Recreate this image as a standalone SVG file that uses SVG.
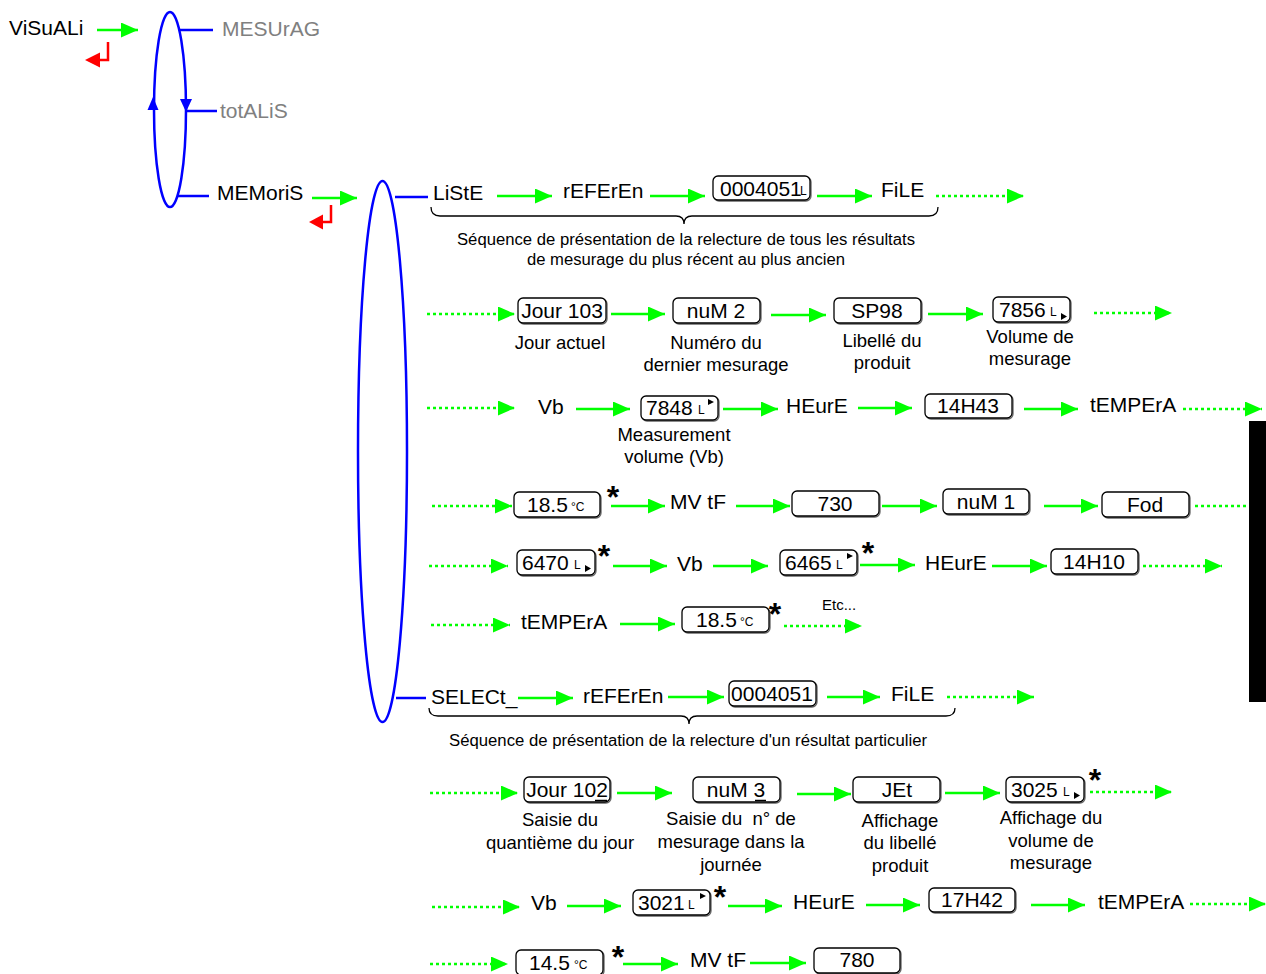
<svg xmlns="http://www.w3.org/2000/svg" width="1266" height="974" viewBox="0 0 1266 974">
<style>
text{font-family:"Liberation Sans",Arial,sans-serif;fill:#000}
.t{font-size:21px}
.gr{font-size:21px;fill:#808080}
.l{font-size:18.5px;text-anchor:middle}
.d{font-size:16px;text-anchor:middle}
.c{text-anchor:middle}
.u{font-size:12px}
.s{font-size:32px;font-weight:bold;text-anchor:middle}
.box{fill:#fff;stroke:#000;stroke-width:1.3}
.sh{fill:none;stroke:#666;stroke-width:1.3}
.ga{stroke:#00ff00;stroke-width:2.5;fill:none;marker-end:url(#gh)}
.gd{stroke:#00ff00;stroke-width:2.5;fill:none;stroke-dasharray:3 3;marker-end:url(#gh)}
.gdn{stroke:#00ff00;stroke-width:2.5;fill:none;stroke-dasharray:3 3}
.bl{stroke:#0000ff;stroke-width:2.5;fill:none}
.br{stroke:#000;stroke-width:1.3;fill:none}
.red{stroke:#ff0000;stroke-width:2.5;fill:none}
</style>
<defs>
<marker id="gh" markerUnits="userSpaceOnUse" markerWidth="17" markerHeight="15" refX="17" refY="7.5" orient="auto">
<path d="M0,0 L17,7.5 L0,15 Z" fill="#00ff00"/>
</marker>
</defs>
<rect width="1266" height="974" fill="#fff"/>

<g id="menu">
<ellipse class="bl" cx="170" cy="109.5" rx="16" ry="97.5"/>
<path d="M153,97 L147.5,110 L158.5,110 Z" fill="#0000ff"/>
<path d="M186,112 L180,99 L192,99 Z" fill="#0000ff"/>
<line class="bl" x1="180" y1="30" x2="213" y2="30"/>
<line class="bl" x1="186" y1="111" x2="217" y2="111"/>
<line class="bl" x1="178" y1="196" x2="209" y2="196"/>
</g>
<g id="visuali"><text class="t" x="9" y="35">ViSuALi</text></g>
<g id="mesurag"><text class="gr" x="222" y="36">MESUrAG</text></g>
<g id="totalis"><text class="gr" x="220" y="118">totALiS</text></g>
<g id="memoris"><text class="t" x="217" y="200">MEMoriS</text></g>
<g id="returns">
<path class="red" d="M108,42 L108,60 L98,60"/>
<path d="M85,60 L100,52.5 L100,67.5 Z" fill="#ff0000"/>
<path class="red" d="M331,205 L331,222 L321,222"/>
<path d="M309,222 L323,214.5 L323,229.5 Z" fill="#ff0000"/>
</g>

<g id="memellipse">
<ellipse class="bl" cx="382.5" cy="451.5" rx="24.5" ry="270.5"/>
<line class="bl" x1="395" y1="197" x2="428" y2="197"/>
<line class="bl" x1="396" y1="698" x2="426" y2="698"/>
</g>

<g id="connectors">
<line class="ga" x1="97" y1="30" x2="138" y2="30"/>
<line class="ga" x1="312" y1="198" x2="357" y2="198"/>
<line class="ga" x1="497" y1="196" x2="552" y2="196"/>
<line class="ga" x1="650" y1="196" x2="705" y2="196"/>
<line class="ga" x1="817" y1="196" x2="872" y2="196"/>
<line class="gd" x1="936" y1="196" x2="1024" y2="196"/>
<line class="gd" x1="427" y1="314" x2="515" y2="314"/>
<line class="ga" x1="611" y1="314" x2="665" y2="314"/>
<line class="ga" x1="771" y1="315" x2="826" y2="315"/>
<line class="ga" x1="928" y1="314" x2="983" y2="314"/>
<line class="gd" x1="1094" y1="313" x2="1172" y2="313"/>
<line class="gd" x1="427" y1="408" x2="515" y2="408"/>
<line class="ga" x1="576" y1="409" x2="630" y2="409"/>
<line class="ga" x1="723" y1="409" x2="778" y2="409"/>
<line class="ga" x1="858" y1="408" x2="912" y2="408"/>
<line class="ga" x1="1024" y1="409" x2="1078" y2="409"/>
<line class="gd" x1="1183" y1="409" x2="1262" y2="409"/>
<line class="gd" x1="432" y1="506" x2="512" y2="506"/>
<line class="ga" x1="611" y1="506" x2="665" y2="506"/>
<line class="ga" x1="736" y1="506" x2="790" y2="506"/>
<line class="ga" x1="882" y1="506" x2="937" y2="506"/>
<line class="ga" x1="1044" y1="506" x2="1098" y2="506"/>
<line class="gdn" x1="1195" y1="506" x2="1249" y2="506"/>
<line class="gd" x1="429" y1="566" x2="508" y2="566"/>
<line class="ga" x1="613" y1="566" x2="667" y2="566"/>
<line class="ga" x1="713" y1="566" x2="768" y2="566"/>
<line class="ga" x1="860" y1="565" x2="915" y2="565"/>
<line class="ga" x1="992" y1="566" x2="1047" y2="566"/>
<line class="gd" x1="1143" y1="566" x2="1222" y2="566"/>
<line class="gd" x1="431" y1="625" x2="510" y2="625"/>
<line class="ga" x1="620" y1="624" x2="675" y2="624"/>
<line class="gd" x1="784" y1="626" x2="862" y2="626"/>
<line class="ga" x1="518" y1="698" x2="573" y2="698"/>
<line class="ga" x1="668" y1="697" x2="724" y2="697"/>
<line class="ga" x1="827" y1="697" x2="880" y2="697"/>
<line class="gd" x1="947" y1="697" x2="1034" y2="697"/>
<line class="gd" x1="430" y1="793" x2="518" y2="793"/>
<line class="ga" x1="617" y1="793" x2="672" y2="793"/>
<line class="ga" x1="797" y1="794" x2="851" y2="794"/>
<line class="ga" x1="945" y1="793" x2="1000" y2="793"/>
<line class="gd" x1="1090" y1="792" x2="1172" y2="792"/>
<line class="gd" x1="432" y1="907" x2="520" y2="907"/>
<line class="ga" x1="567" y1="906" x2="621" y2="906"/>
<line class="ga" x1="728" y1="906" x2="782" y2="906"/>
<line class="ga" x1="866" y1="905" x2="920" y2="905"/>
<line class="ga" x1="1031" y1="905" x2="1085" y2="905"/>
<line class="gd" x1="1190" y1="904" x2="1266" y2="904"/>
<line class="gd" x1="430" y1="964" x2="508" y2="964"/>
<line class="ga" x1="623" y1="964" x2="678" y2="964"/>
<line class="ga" x1="750" y1="963" x2="806" y2="963"/>
</g>

<g id="liste"><text class="t" x="433" y="200">LiStE</text></g>
<g id="referen1"><text class="t" x="563" y="198">rEFErEn</text></g>
<g id="ref1box"><rect class="sh" x="714" y="177" width="97" height="24" rx="5"/><rect class="box" x="713" y="176" width="97" height="24" rx="5"/><text class="t" x="720" y="196">0004051</text><text class="u" x="800" y="195">L</text></g>
<g id="file1"><text class="t" x="881" y="197">FiLE</text></g>
<g id="brace1">
<path class="br" d="M431,207 Q431,216 440,216 L676,216 Q684,216 684,224 Q684,216 692,216 L929,216 Q938,216 938,207"/>
<text class="d" x="686" y="245" textLength="458" lengthAdjust="spacingAndGlyphs">Séquence de présentation de la relecture de tous les résultats</text>
<text class="d" x="686" y="265" textLength="318" lengthAdjust="spacingAndGlyphs">de mesurage du plus récent au plus ancien</text>
</g>

<g id="jour103"><rect class="sh" x="519" y="299" width="88" height="25" rx="5"/><rect class="box" x="518" y="298" width="88" height="25" rx="5"/><text class="t c" x="562" y="318">Jour 103</text><text class="l" x="560" y="349">Jour actuel</text></g>
<g id="num2"><rect class="sh" x="674" y="299" width="87" height="25" rx="5"/><rect class="box" x="673" y="298" width="87" height="25" rx="5"/><text class="t c" x="716" y="318">nuM 2</text><text class="l" x="716" y="349">Numéro du</text><text class="l" x="716" y="371">dernier mesurage</text></g>
<g id="sp98"><rect class="sh" x="835" y="299" width="87" height="25" rx="5"/><rect class="box" x="834" y="298" width="87" height="25" rx="5"/><text class="t c" x="877" y="318">SP98</text><text class="l" x="882" y="347">Libellé du</text><text class="l" x="882" y="369">produit</text></g>
<g id="v7856"><rect class="sh" x="994" y="298" width="77" height="25" rx="5"/><rect class="box" x="993" y="297" width="77" height="25" rx="5"/><text class="t" x="999" y="317">7856</text><text class="u" x="1050" y="316">L</text><path d="M1061,313 L1067,316.5 L1061,320 Z"/><text class="l" x="1030" y="343">Volume de</text><text class="l" x="1030" y="365">mesurage</text></g>

<g id="vb1"><text class="t" x="538" y="414">Vb</text></g>
<g id="v7848"><rect class="sh" x="642" y="397" width="77" height="24" rx="5"/><rect class="box" x="641" y="396" width="77" height="24" rx="5"/><text class="t" x="646" y="415">7848</text><text class="u" x="698" y="414">L</text><path d="M708,399 L714,402 L708,405 Z"/><text class="l" x="674" y="441">Measurement</text><text class="l" x="674" y="463">volume (Vb)</text></g>
<g id="heure1"><text class="t" x="786" y="413">HEurE</text></g>
<g id="h1443"><rect class="sh" x="926" y="395" width="87" height="24" rx="5"/><rect class="box" x="925" y="394" width="87" height="24" rx="5"/><text class="t c" x="968" y="413">14H43</text></g>
<g id="tempera1"><text class="t" x="1090" y="412">tEMPErA</text></g>

<g id="t185a"><rect class="sh" x="515" y="493" width="86" height="25" rx="5"/><rect class="box" x="514" y="492" width="86" height="25" rx="5"/><text class="t" x="527" y="512">18.5</text><text class="u" x="571" y="511">°C</text><text class="s" x="613" y="508">*</text></g>
<g id="mvtf1"><text class="t" x="670" y="509">MV tF</text></g>
<g id="b730"><rect class="sh" x="793" y="492" width="87" height="25" rx="5"/><rect class="box" x="792" y="491" width="87" height="25" rx="5"/><text class="t c" x="835" y="511">730</text></g>
<g id="num1"><rect class="sh" x="944" y="490" width="86" height="25" rx="5"/><rect class="box" x="943" y="489" width="86" height="25" rx="5"/><text class="t c" x="986" y="509">nuM 1</text></g>
<g id="fod"><rect class="sh" x="1103" y="493" width="87" height="25" rx="5"/><rect class="box" x="1102" y="492" width="87" height="25" rx="5"/><text class="t c" x="1145" y="512">Fod</text></g>

<g id="v6470"><rect class="sh" x="518" y="551" width="78" height="25" rx="5"/><rect class="box" x="517" y="550" width="78" height="25" rx="5"/><text class="t" x="522" y="570">6470</text><text class="u" x="574" y="569">L</text><path d="M585,565 L591,568.5 L585,572 Z"/><text class="s" x="604" y="567">*</text></g>
<g id="vb2"><text class="t" x="677" y="571">Vb</text></g>
<g id="v6465"><rect class="sh" x="781" y="551" width="77" height="25" rx="5"/><rect class="box" x="780" y="550" width="77" height="25" rx="5"/><text class="t" x="785" y="570">6465</text><text class="u" x="836" y="569">L</text><path d="M847,553 L853,556 L847,559 Z"/><text class="s" x="868" y="564">*</text></g>
<g id="heure2"><text class="t" x="925" y="570">HEurE</text></g>
<g id="h1410"><rect class="sh" x="1052" y="550" width="87" height="25" rx="5"/><rect class="box" x="1051" y="549" width="87" height="25" rx="5"/><text class="t c" x="1094" y="569">14H10</text></g>

<g id="tempera2"><text class="t" x="521" y="629">tEMPErA</text></g>
<g id="t185b"><rect class="sh" x="683" y="608" width="87" height="25" rx="5"/><rect class="box" x="682" y="607" width="87" height="25" rx="5"/><text class="t" x="696" y="627">18.5</text><text class="u" x="740" y="626">°C</text><text class="s" x="775" y="625">*</text></g>
<g id="etc"><text x="822" y="610" font-size="15">Etc...</text></g>

<g id="select"><text class="t" x="431" y="704">SELECt_</text></g>
<g id="referen2"><text class="t" x="583" y="703">rEFErEn</text></g>
<g id="ref2box"><rect class="sh" x="730" y="682" width="87" height="25" rx="5"/><rect class="box" x="729" y="681" width="87" height="25" rx="5"/><text class="t c" x="772" y="701">0004051</text></g>
<g id="file2"><text class="t" x="891" y="701">FiLE</text></g>
<g id="brace2">
<path class="br" d="M429,708 Q429,716 438,716 L681,716 Q689,716 689,724 Q689,716 697,716 L946,716 Q955,716 955,708"/>
<text class="d" x="688" y="746" textLength="478" lengthAdjust="spacingAndGlyphs">Séquence de présentation de la relecture d'un résultat particulier</text>
</g>

<g id="jour102"><rect class="sh" x="525" y="778" width="86" height="25" rx="5"/><rect class="box" x="524" y="777" width="86" height="25" rx="5"/><text class="t c" x="567" y="797">Jour 102</text><line x1="595" y1="800.5" x2="607" y2="800.5" stroke="#000" stroke-width="1.5"/><text class="l" x="560" y="826">Saisie du</text><text class="l" x="560" y="849">quantième du jour</text></g>
<g id="num3"><rect class="sh" x="694" y="778" width="87" height="25" rx="5"/><rect class="box" x="693" y="777" width="87" height="25" rx="5"/><text class="t c" x="736" y="797">nuM 3</text><line x1="755" y1="800.5" x2="766" y2="800.5" stroke="#000" stroke-width="1.5"/><text class="l" x="731" y="825" xml:space="preserve">Saisie du  n° de</text><text class="l" x="731" y="848">mesurage dans la</text><text class="l" x="731" y="871">journée</text></g>
<g id="jet"><rect class="sh" x="854" y="778" width="87" height="25" rx="5"/><rect class="box" x="853" y="777" width="87" height="25" rx="5"/><text class="t c" x="897" y="797">JEt</text><text class="l" x="900" y="827">Affichage</text><text class="l" x="900" y="849">du libellé</text><text class="l" x="900" y="872">produit</text></g>
<g id="v3025"><rect class="sh" x="1007" y="778" width="78" height="25" rx="5"/><rect class="box" x="1006" y="777" width="78" height="25" rx="5"/><text class="t" x="1011" y="797">3025</text><text class="u" x="1063" y="796">L</text><path d="M1074,792 L1080,795.5 L1074,799 Z"/><text class="s" x="1095" y="791">*</text><text class="l" x="1051" y="824">Affichage du</text><text class="l" x="1051" y="847">volume de</text><text class="l" x="1051" y="869">mesurage</text></g>

<g id="vb3"><text class="t" x="531" y="910">Vb</text></g>
<g id="v3021"><rect class="sh" x="634" y="891" width="77" height="25" rx="5"/><rect class="box" x="633" y="890" width="77" height="25" rx="5"/><text class="t" x="638" y="910">3021</text><text class="u" x="688" y="909">L</text><path d="M700,893 L706,896 L700,899 Z"/><text class="s" x="720" y="908">*</text></g>
<g id="heure3"><text class="t" x="793" y="909">HEurE</text></g>
<g id="h1742"><rect class="sh" x="930" y="889" width="86" height="24" rx="5"/><rect class="box" x="929" y="888" width="86" height="24" rx="5"/><text class="t c" x="972" y="907">17H42</text></g>
<g id="tempera3"><text class="t" x="1098" y="909">tEMPErA</text></g>

<g id="t145"><rect class="sh" x="517" y="951" width="87" height="25" rx="5"/><rect class="box" x="516" y="950" width="87" height="25" rx="5"/><text class="t" x="529" y="970">14.5</text><text class="u" x="574" y="969">°C</text><text class="s" x="618" y="968">*</text></g>
<g id="mvtf2"><text class="t" x="690" y="967">MV tF</text></g>
<g id="b780"><rect class="sh" x="815" y="949" width="86" height="25" rx="5"/><rect class="box" x="814" y="948" width="86" height="25" rx="5"/><text class="t c" x="857" y="967">780</text></g>

<rect id="bar" x="1249" y="421" width="17" height="281" fill="#000"/>
</svg>
